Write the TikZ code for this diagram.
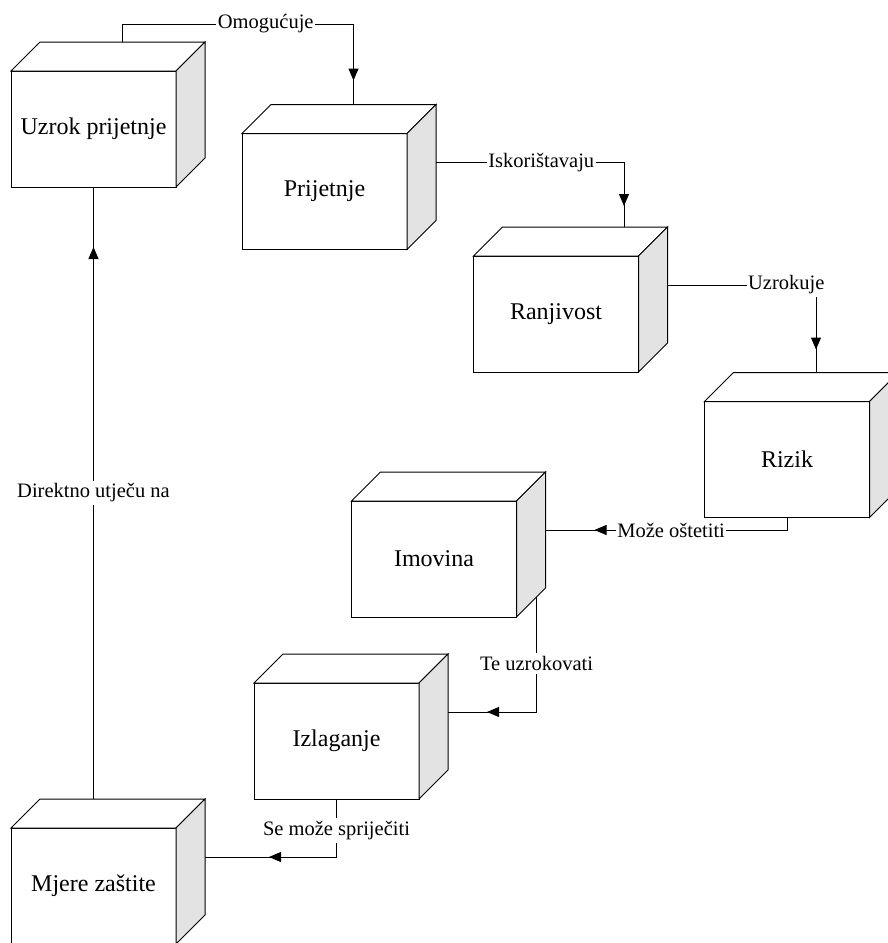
\documentclass[tikz,border=0pt]{standalone}
\usepackage{fontspec}
\setmainfont{Liberation Serif}
\usetikzlibrary{arrows.meta,decorations.markings}

\tikzstyle{box}=[rectangle,draw,fill=white,line width=1pt,minimum width=165pt,
minimum height=116pt,inner sep=0pt,outer sep=0pt,font=\fontsize{24}{28}\selectfont]
\tikzstyle{line}=[draw,line width=1pt,color=black]
\tikzstyle{lbl}=[fill=white,inner xsep=1.5pt,inner ysep=3pt,font=\fontsize{20.5}{24}\selectfont]
\tikzset{arr/.style={postaction={decorate},decoration={markings,
  mark=at position -#1 with {\arrow{Triangle[length=12pt,width=10pt]}}}}}

\newcommand{\cubesides}[1]{%
  \draw[line width=1pt,fill=white] (#1.north west) -- ++(29,-29) -- ([shift={(29,-29)}]#1.north east) coordinate (#1-tr) -- (#1.north east) -- cycle;
  \draw[line width=1pt,fill=black!11] (#1.north east) -- (#1-tr) -- ([shift={(29,-29)}]#1.south east) -- (#1.south east) -- cycle;
  \coordinate (#1-top) at ([shift={(29,-29)}]#1.north);
  \coordinate (#1-side) at ([shift={(29,-29)}]#1.east);
}

\begin{document}
\begin{tikzpicture}[x=1pt,y=-1pt]
\useasboundingbox (0,0) rectangle (888,943);
\node [box] (uzrok) at (93.5,129) {Uzrok prijetnje};
\node [box] (prijetnje) at (324.5,191.5) {Prijetnje};
\node [box] (ranjivost) at (556,314) {Ranjivost};
\node [box] (rizik) at (787,459.5) {Rizik};
\node [box] (imovina) at (434,559) {Imovina};
\node [box] (izlaganje) at (336.5,741) {Izlaganje};
\node [box] (mjere) at (93.5,886) {Mjere zaštite};
\cubesides{uzrok}
\cubesides{prijetnje}
\cubesides{ranjivost}
\cubesides{rizik}
\cubesides{imovina}
\cubesides{izlaganje}
\cubesides{mjere}
\path [line,arr=24pt] (uzrok-top) -- ++(0,-18) -| node[lbl,pos=0.31] {Omogućuje} (prijetnje-top);
\path [line,arr=21pt] (prijetnje-side) -| node[lbl,pos=0.28] {Iskorištavaju} ([xshift=39pt]ranjivost-top);
\path [line,arr=23pt] (ranjivost-side) -| node[lbl,pos=0.40] {Uzrokuje} (rizik-top);
\path [line,arr=49pt] (rizik.south) |- node[lbl,pos=0.74] {Može oštetiti} (imovina-side);
\path [line,arr=39pt] ([shift={(20,-20)}]imovina.south east) |- node[lbl,pos=0.29] {Te uzrokovati} (izlaganje-side);
\path [line,arr=64pt] (izlaganje.south) |- node[lbl,pos=0.27] {Se može spriječiti} (mjere-side);
\path [line,arr=60pt] ([shift={(0,-29)}]mjere.north) -- node[lbl] {Direktno utječu na} (uzrok.south);
\end{tikzpicture}
\end{document}
